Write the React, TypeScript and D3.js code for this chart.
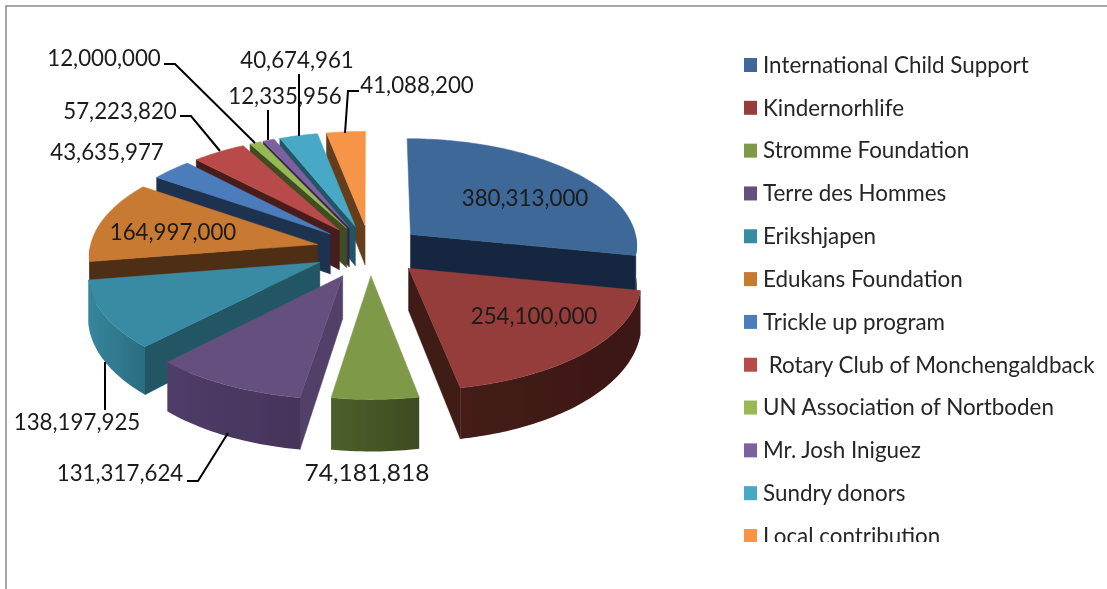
import { useEffect, useRef } from 'react';
import * as d3 from 'd3';

const categories = [
    'International Child Support', 'Kindernorhlife', 'Stromme Foundation', 'Terre des Hommes',
    'Erikshjapen', 'Edukans Foundation', 'Trickle up program', ' Rotary Club of Monchengaldback',
    'UN Association of Nortboden', 'Mr. Josh Iniguez', 'Sundry donors', 'Local contribution',
];
const values = [
    380313000, 254100000, 74181818, 131317624, 138197925, 164997000,
    43635977, 57223820, 12000000, 12335956, 40674961, 41088200,
];
const explodeBy = [53, 54, 54, 60, 56, 54, 53, 53, 53, 53, 53, 53];
const topColors = [
    '#3d6898', '#953d3b', '#7e9a48', '#65507f', '#398ba3', '#c87933',
    '#4c7cbb', '#b84b4a', '#98b855', '#7d60a0', '#46a9c5', '#f69546',
];
const wallLight = [
    '#17273f', '#441b18', '#4d5f2b', '#503c69', '#35869d', '#4f2e14',
    '#1e324f', '#4a1c1b', '#404e22', '#34284a', '#205566', '#643e1c',
];
const wallDark = [
    '#17273f', '#3c1815', '#3f4c20', '#45345a', '#2b6c81', '#4f2e14',
    '#1e324f', '#4a1c1b', '#404e22', '#34284a', '#205566', '#643e1c',
];
const radialColors = [
    '#17273f', '#3f1a17', '#414f22', '#534068', '#235665', '#4f2e14',
    '#1e324f', '#4a1c1b', '#404e22', '#34284a', '#205566', '#643e1c',
];

// [value index, text centre x, y, leader path]
const labelLayout: [number, number, number, [number, number][]][] = [
    [0, 525, 198, []],
    [1, 534, 316, []],
    [2, 367, 473, []],
    [3, 120, 473, [[187, 481], [198, 481], [228, 433]]],
    [4, 77, 422, [[105, 362], [105, 410]]],
    [5, 173, 232, []],
    [6, 107, 152, []],
    [7, 120, 111, [[180, 116], [191, 116], [220, 151]]],
    [8, 104, 58, [[164, 64], [175, 64], [255, 143]]],
    [9, 285, 96, [[268, 110], [268, 140]]],
    [10, 297, 60, [[299, 74], [299, 136]]],
    [11, 417, 85, [[359, 91], [348, 91], [345, 133]]],
];

const WIDTH = 1107;
const HEIGHT = 589;
const FONT = 'Lato, "Open Sans", sans-serif';

export default function App() {
    const svgRef = useRef<SVGSVGElement>(null);

    useEffect(() => {
        if (!svgRef.current) return;

        // Clear previous chart
        d3.select(svgRef.current).selectAll('*').remove();
        const root = d3.select(svgRef.current);

        // Pie projection
        const cx = 370;
        const cy = 250;
        const radius = 228;
        const tilt = 0.47;
        const persp = 2500;
        const depth = 41;

        const scaleAt = (z: number) => persp / (persp + z);
        const project = (x: number, z: number): [number, number] => {
            const s = scaleAt(z);
            return [cx + x * s, cy - z * tilt * s];
        };
        const drop = (x: number, z: number): [number, number] => {
            const s = scaleAt(z);
            const p = project(x, z);
            return [p[0], p[1] + depth * s * s];
        };

        const line = d3.line<[number, number]>();
        const defs = root.append('defs');
        defs.append('clipPath').attr('id', 'legend-clip')
            .append('rect').attr('x', 0).attr('y', 0).attr('width', WIDTH).attr('height', 542);

        // The source picture is a slightly soft raster
        defs.append('filter').attr('id', 'soft')
            .attr('filterUnits', 'userSpaceOnUse')
            .attr('x', 0).attr('y', 0).attr('width', WIDTH).attr('height', HEIGHT)
            .append('feGaussianBlur').attr('stdDeviation', 0.45);

        const svg = root.append('g').attr('filter', 'url(#soft)');

        // Frame
        svg.append('path')
            .attr('d', line([[6, HEIGHT], [6, 6], [WIDTH, 6]]))
            .attr('fill', 'none')
            .attr('stroke', '#8c8c8c')
            .attr('stroke-width', 1.5);

        const arcs = d3.pie<number>().sort(null)(values);
        const slices = arcs.map((a, i) => ({ ...a, i, mid: (a.startAngle + a.endAngle) / 2 }));
        const order = d3.sort(slices, d => -Math.cos(d.mid));

        const pieG = svg.append('g');

        order.forEach(d => {
            const ex = explodeBy[d.i] * Math.sin(d.mid);
            const ez = explodeBy[d.i] * Math.cos(d.mid);
            const at = (r: number, a: number): [number, number] => [ex + r * Math.sin(a), ez + r * Math.cos(a)];
            const steps = Math.ceil((d.endAngle - d.startAngle) / 0.02);
            const angles = d3.range(steps + 1).map(k => d.startAngle + (d.endAngle - d.startAngle) * k / steps);

            const radial = (a: number) => {
                const [x, z] = at(radius, a);
                const pts = [project(ex, ez), project(x, z), drop(x, z), drop(ex, ez)];
                pieG.append('path').attr('d', line(pts) + 'Z').attr('fill', radialColors[d.i])
                    .attr('stroke', radialColors[d.i]).attr('stroke-width', 0.5);
            };
            if (Math.sin(d.startAngle) < -0.001) radial(d.startAngle);
            if (Math.sin(d.endAngle) > 0.001) radial(d.endAngle);

            // Outer wall, front half only
            const front = angles.filter(a => Math.cos(a) < 0);
            if (front.length > 1) {
                const tops = front.map(a => project(...at(radius, a)));
                const bottoms = front.map(a => drop(...at(radius, a))).reverse();
                const xs = d3.extent(tops, p => p[0]) as [number, number];
                const grad = defs.append('linearGradient')
                    .attr('id', `wall-${d.i}`)
                    .attr('gradientUnits', 'userSpaceOnUse')
                    .attr('x1', xs[0]).attr('x2', xs[1]).attr('y1', 0).attr('y2', 0);
                grad.append('stop').attr('offset', '0%').attr('stop-color', wallLight[d.i]);
                grad.append('stop').attr('offset', '100%').attr('stop-color', wallDark[d.i]);
                pieG.append('path')
                    .attr('d', line([...tops, ...bottoms]) + 'Z')
                    .attr('fill', `url(#wall-${d.i})`);
            }

            // Top face
            const rim = angles.map(a => project(...at(radius, a)));
            pieG.append('path')
                .attr('d', line([project(ex, ez), ...rim]) + 'Z')
                .attr('fill', topColors[d.i])
                .attr('stroke', topColors[d.i])
                .attr('stroke-width', 0.5);
        });

        // Data labels
        const fmt = d3.format(',');
        const labels = svg.append('g').attr('font-family', FONT).attr('font-size', 22.3).attr('fill', '#1a1a1a');
        labelLayout.forEach(([idx, x, y, leader]) => {
            if (leader.length) {
                labels.append('path')
                    .attr('d', line(leader))
                    .attr('fill', 'none')
                    .attr('stroke', '#000')
                    .attr('stroke-width', 2);
            }
            const label = labels.append('text')
                .attr('x', x)
                .attr('y', y)
                .attr('dy', '0.35em')
                .attr('text-anchor', 'middle')
                .text(fmt(values[idx]));
            // this one is stretched in the source
            if (idx === 2) label.attr('textLength', 125).attr('lengthAdjust', 'spacingAndGlyphs');
        });

        // Legend
        const legendY = d3.scalePoint<string>()
            .domain(categories)
            .range([65, 536]);
        const legend = svg.append('g').attr('clip-path', 'url(#legend-clip)');
        const rows = legend.selectAll('g')
            .data(categories)
            .enter()
            .append('g')
            .attr('transform', d => `translate(0,${legendY(d)})`);
        rows.append('rect')
            .attr('x', 744)
            .attr('y', -7)
            .attr('width', 13)
            .attr('height', 14)
            .attr('fill', (d, i) => topColors[i]);
        rows.append('text')
            .attr('x', 763)
            .attr('dy', '0.35em')
            .attr('font-family', FONT)
            .attr('font-size', 22.4)
            .attr('fill', '#262626')
            .style('white-space', 'pre')
            .text(d => d);
    }, []);

    return (
        <svg
            ref={svgRef}
            width={WIDTH}
            height={HEIGHT}
            style={{ position: 'absolute', left: 0, top: 0, background: '#fff' }}
        />
    );
}
